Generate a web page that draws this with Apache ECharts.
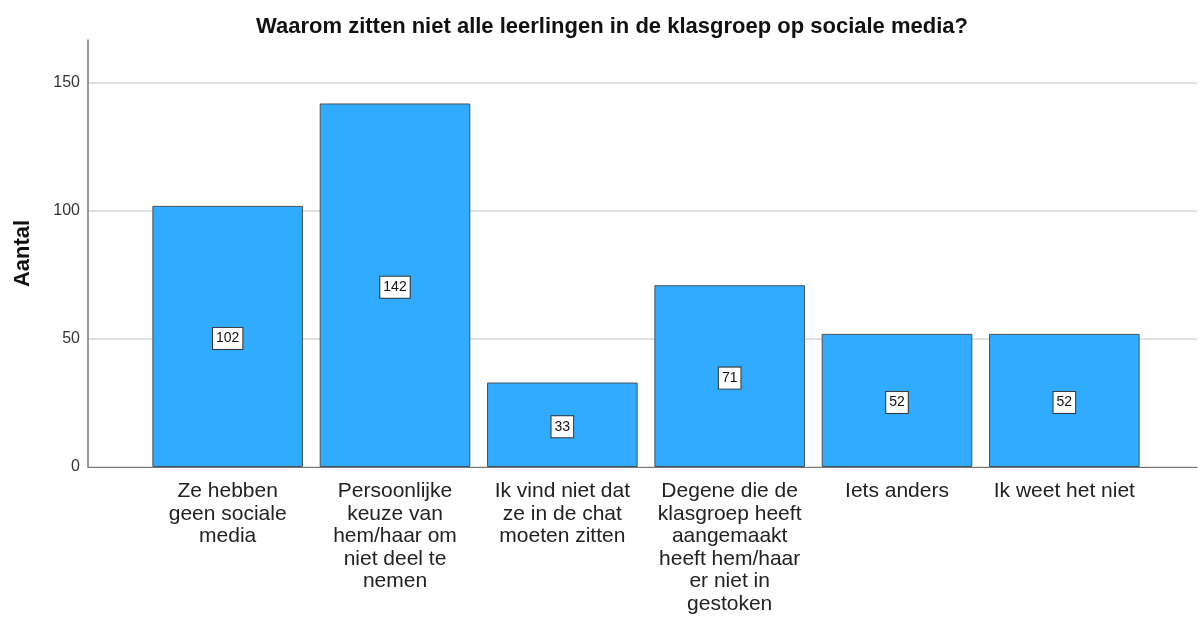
<!DOCTYPE html>
<html>
  <head>
      <meta charset="utf-8">
      <script src="https://cdn.jsdelivr.net/npm/echarts@6/dist/echarts.min.js"></script>
  </head>
  <body style="margin:0;background:#fff;">
      <div id="main" style="width: 1200px;height:619px;"></div>
      <script type="text/javascript">
          // data
          var categories = [
              'Ze hebben\ngeen sociale\nmedia',
              'Persoonlijke\nkeuze van\nhem/haar om\nniet deel te\nnemen',
              'Ik vind niet dat\nze in de chat\nmoeten zitten',
              'Degene die de\nklasgroep heeft\naangemaakt\nheeft hem/haar\ner niet in\ngestoken',
              'Iets anders',
              'Ik weet het niet'
          ];
          var counts = [102, 142, 33, 71, 52, 52];
          var yTicks = [0, 50, 100, 150];

          var yMax = 166.8;
          var myChart = echarts.init(document.getElementById('main'));

          var option = {
              animation: false,
              textStyle: {fontFamily: 'Liberation Sans, Arial, sans-serif'},
              title: {
                  text: 'Waarom zitten niet alle leerlingen in de klasgroep op sociale media?',
                  left: 607,
                  top: 11,
                  textAlign: 'center',
                  textStyle: {fontSize: 22, fontWeight: 'bold', color: '#111'}
              },
              // grid 0 carries the y axis + gridlines across the full width,
              // grid 1 holds the bars (SPSS leaves uneven side margins)
              grid: [
                  {left: 88, right: 3, top: 40, bottom: 152},
                  {left: 144, right: 52, top: 40, bottom: 152}
              ],
              xAxis: [
                  {
                      gridIndex: 0,
                      type: 'category',
                      data: [''],
                      axisLine: {show: true, lineStyle: {color: '#777', width: 1}},
                      axisTick: {show: false},
                      axisLabel: {show: false}
                  },
                  {
                      gridIndex: 1,
                      type: 'category',
                      data: categories,
                      axisLine: {show: false},
                      axisTick: {show: false},
                      axisLabel: {
                          fontSize: 21,
                          lineHeight: 22.5,
                          color: '#222',
                          margin: 13,
                          interval: 0
                      }
                  }
              ],
              yAxis: [
                  {
                      gridIndex: 0,
                      type: 'value',
                      min: 0,
                      max: yMax,
                      interval: 50,
                      name: 'Aantal',
                      nameLocation: 'middle',
                      nameGap: 54,
                      nameTextStyle: {fontSize: 22, fontWeight: 'bold', color: '#111'},
                      axisLine: {show: true, lineStyle: {color: '#777', width: 1.5}},
                      axisTick: {show: false},
                      axisLabel: {
                          fontSize: 16,
                          color: '#333',
                          margin: 8,
                          formatter: function (v) {
                              return yTicks.indexOf(v) >= 0 ? String(v) : '';
                          }
                      },
                      splitLine: {show: true, showMaxLine: false, lineStyle: {color: '#d6d6d6', width: 1.5}}
                  },
                  {
                      gridIndex: 1,
                      type: 'value',
                      min: 0,
                      max: yMax,
                      interval: 50,
                      show: false,
                      splitLine: {show: false}
                  }
              ],
              series: [
                  {
                      type: 'bar',
                      xAxisIndex: 1,
                      yAxisIndex: 1,
                      data: counts,
                      barCategoryGap: '10%',
                      itemStyle: {color: '#31abff', borderColor: '#45525e', borderWidth: 1},
                      label: {
                          show: true,
                          position: 'inside',
                          fontSize: 14,
                          color: '#111',
                          backgroundColor: '#fff',
                          borderColor: '#333',
                          borderWidth: 1,
                          padding: [5, 3, 2, 3],
                          offset: [0, 2]
                      }
                  }
              ]
          };
          myChart.setOption(option);
      </script>
  </body>
</html>
